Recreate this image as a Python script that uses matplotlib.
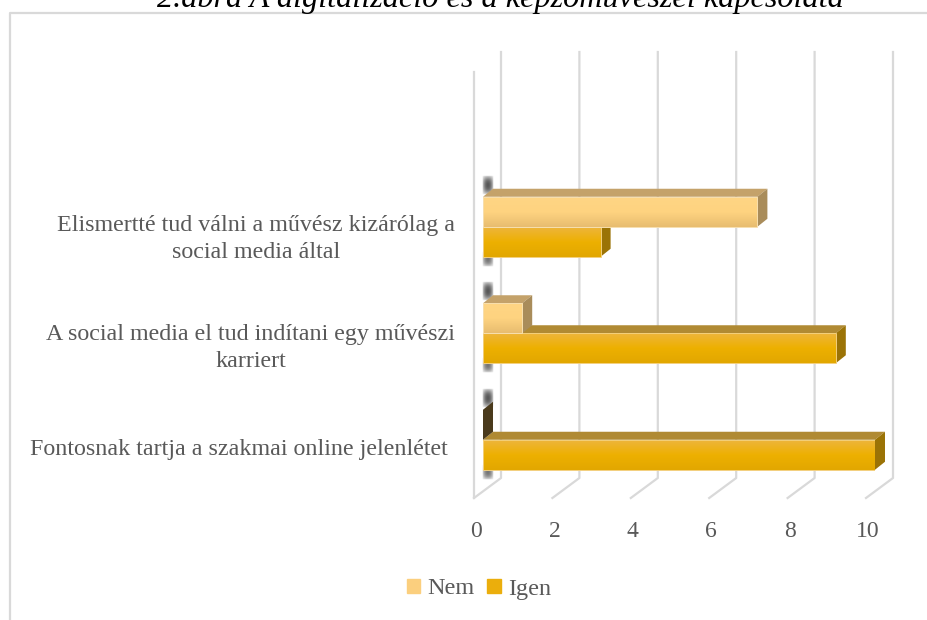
import numpy as np
import matplotlib
matplotlib.use('Agg')
import matplotlib.pyplot as plt
from matplotlib.patches import Polygon, Patch
from matplotlib.transforms import ScaledTranslation

plt.rcParams['font.family'] = ['Liberation Serif', 'DejaVu Serif']

categories = ['Fontosnak tartja a szakmai online jelenlétet',
              'A social media el tud indítani egy művészi\nkarriert',
              'Elismertté tud válni a művész kizárólag a\nsocial media által']
nem = [0, 1, 7]
igen = [10, 9, 3]
xticks = [0, 2, 4, 6, 8, 10]
title = '2.ábra A digitalizáció és a képzőművészei kapcsolata'

W, H = 928, 620
fig = plt.figure(figsize=(W / 100, H / 100), dpi=100)
# axes box in pixels: value 0 at x=483, value 10 at x=875
ax = fig.add_axes([483 / W, 1 - 493 / H, 392 / W, 319.5 / H])
ax.set_xlim(0, 10)
ax.set_ylim(-0.5, 2.5)
ax.patch.set_alpha(0)

ux = 39.2    # pixels per value
uy = 106.5   # pixels per category
dx = 10 / ux
dy = 8 / uy
bar_h = 30 / uy


def py(p):
    # pixel row to axis y
    return -0.5 + (493 - p) / uy


# chart frame, open at the bottom and right
fig.add_artist(plt.Line2D([10 / W, 10 / W, 1], [0, 1 - 12.5 / H, 1 - 12.5 / H], color='#d9d9d9', lw=1.6))
fig.text(500 / W, 1 - 7 / H, title, ha='center', va='baseline', fontsize=23.2, style='italic', color='black')

# gridlines with floor and back wall
grid_c = '#d9d9d9'
for v in xticks:
    ax.plot([v - 9 / ux, v + 18 / ux, v + 18 / ux], [py(498), py(478), py(52)], color=grid_c, lw=1.6, zorder=1, clip_on=False)
ax.plot([-9 / ux, -9 / ux], [py(498), py(72)], color=grid_c, lw=1.6, zorder=1, clip_on=False)


def grad_bar(val, y0, colors, edge, z):
    # front face with vertical gradient, then top and side
    top = y0 + bar_h
    grad = matplotlib.colors.LinearSegmentedColormap.from_list('g', colors)
    bar = ax.barh(y0 + bar_h / 2, val, height=bar_h, facecolor='none', edgecolor=edge, lw=0.7, zorder=z + 0.1)[0]
    im = ax.imshow(np.linspace(0, 1, 64).reshape(-1, 1), cmap=grad, extent=[0, max(val, 0.001), y0, top],
                   origin='upper', aspect='auto', zorder=z)
    im.set_clip_path(bar)


def faces(val, y0, top_c, side_c, z):
    top = y0 + bar_h
    ax.add_patch(Polygon([(0, top), (dx, top + dy), (val + dx, top + dy), (val, top)], color=top_c, lw=0, zorder=z, clip_on=False))
    ax.add_patch(Polygon([(val, y0), (val, top), (val + dx, top + dy), (val + dx, y0 + dy)], color=side_c, lw=0, zorder=z, clip_on=False))


def halo(y0, y1, peak):
    # soft grey smudge at the base of the bars
    ny, nx = 24, 16
    fade_y = np.sin(np.linspace(0, np.pi, ny)) ** 0.6
    fade_x = np.sin(np.linspace(0, np.pi, nx)) ** 0.6
    rgba = np.zeros((ny, nx, 4))
    rgba[..., :3] = 0.22
    rgba[..., 3] = peak * np.outer(fade_y, fade_x)
    im = ax.imshow(rgba, extent=[-1 / ux, dx + 1 / ux, y0, y1], origin='upper', aspect='auto', zorder=2, interpolation='bilinear')
    im.set_clip_on(False)


for i in range(len(categories)):
    c = i - 0.0
    y_i = c - bar_h
    y_n = c
    halo(c + bar_h + dy - 6 / uy, c + bar_h + dy + 14 / uy, 0.85)
    halo(y_i - 10 / uy, y_i + 6 / uy, 0.7)
    # Igen first, Nem sits in front of it
    faces(igen[i], y_i, '#b08a33', '#9b7306', 3)
    grad_bar(igen[i], y_i, ['#eeb53c', '#edb000', '#e2a700'], '#f3cf7c', 4)
    if nem[i] > 0:
        faces(nem[i], y_n, '#c4a26a', '#a98c5a', 5)
        grad_bar(nem[i], y_n, ['#ffd584', '#fed380', '#e8bd70'], '#f7dfae', 6)
    else:
        faces(nem[i], y_n, '#4a3a1c', '#4a3a1c', 5)

ax.set_xlim(0, 10)
ax.set_ylim(-0.5, 2.5)
for s in ax.spines.values():
    s.set_visible(False)

ax.set_xticks(xticks)
ax.set_xticklabels([str(v) for v in xticks], fontsize=17, color='#595959')
ax.tick_params(axis='x', length=0, pad=20)
ax.set_yticks(range(len(categories)))
ax.set_yticklabels(categories, fontsize=17.3, color='#595959', multialignment='center', linespacing=1.38)
ax.tick_params(axis='y', length=0, pad=20)

for lab in ax.get_xticklabels():
    lab.set_transform(lab.get_transform() + ScaledTranslation(-7 / 100, 0, fig.dpi_scale_trans))
for lab, off_x, off_y in zip(ax.get_yticklabels(), [-7, 0, 0], [-7, -9.5, -6.5]):
    lab.set_transform(lab.get_transform() + ScaledTranslation(off_x / 100, off_y / 100, fig.dpi_scale_trans))

handles = [Patch(color='#fbcf7e', label='Nem'), Patch(color='#ebae0c', label='Igen')]
fig.legend(handles=handles, loc='center', bbox_to_anchor=(479 / W, 1 - 589 / H), ncol=2, frameon=False,
           fontsize=17.5, labelcolor='#595959', handlelength=0.55, handleheight=0.55, handletextpad=0.3, columnspacing=0.5)

fig.savefig('out.png', dpi=100)
plt.close()
